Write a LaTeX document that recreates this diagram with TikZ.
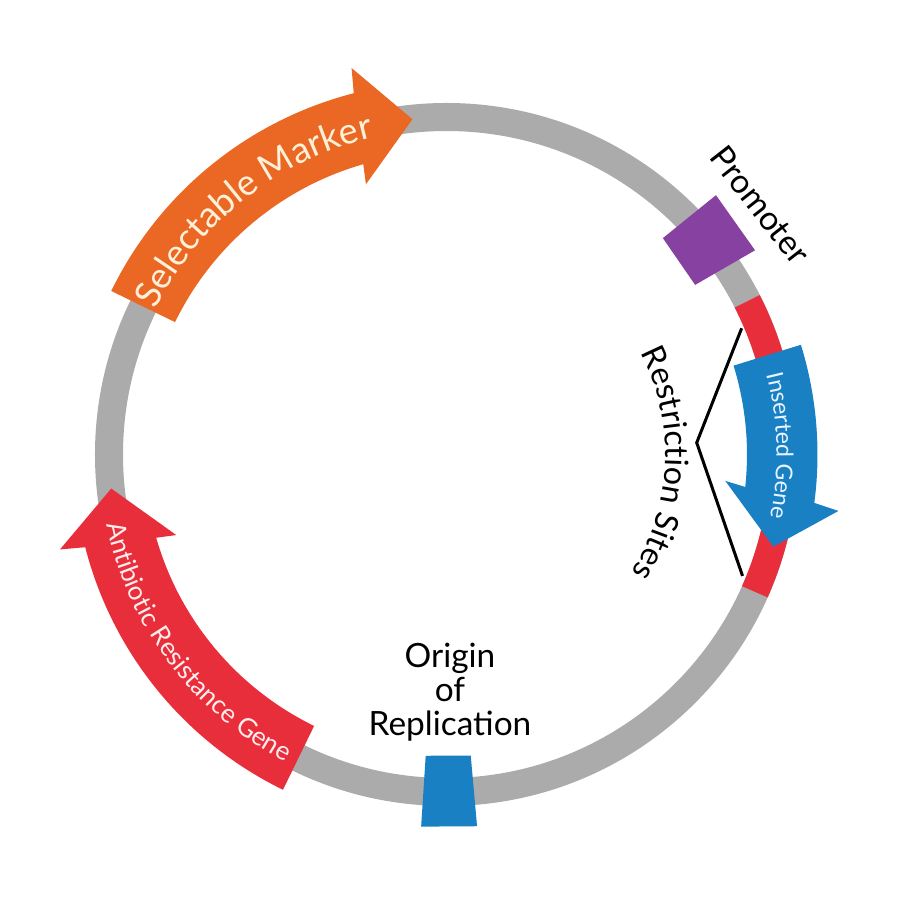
\documentclass[tikz,border=0pt]{standalone}
\usepackage{fontspec}
\setmainfont{Lato}
\usepackage{tikz}
\usetikzlibrary{decorations.text}
\definecolor{ringgray}{HTML}{ABABAB}
\definecolor{markerorange}{HTML}{EA6724}
\definecolor{resistred}{HTML}{E92E3B}
\definecolor{promoterpurple}{HTML}{8741A0}
\definecolor{geneblue}{HTML}{1A80C4}
\definecolor{markertext}{HTML}{FFF0D8}
\definecolor{genetext}{HTML}{E8F4FF}
\definecolor{resisttext}{HTML}{FFEDEE}

\begin{document}
\begin{tikzpicture}[x=0.01cm,y=0.01cm,
  backbone/.style={line width=0.28cm},
  plasmidtext/.style={font=\fontsize{9.5}{9.67}\selectfont, inner sep=0pt},
  arctext/.style={decorate, decoration={text along path, text align=center, text color=#1}}]
\useasboundingbox (-446.5,-445.5) rectangle (453.5,454.5);
\draw[backbone, ringgray] (0,0) circle[radius=337.5];
\draw[backbone, resistred] (27:337.5) arc[start angle=27, end angle=-24, radius=337.5];
\fill[promoterpurple] (45:306) -- (43.9:374) -- (33.5:370) -- (34.3:301) -- cycle;
\fill[geneblue] (266.05:302) -- (274.6:302) -- (274.7:373) -- (266.1:373) -- cycle;
\fill[markerorange] (154:373) arc[start angle=154, end angle=104.4, radius=373] -- (103.8:398) -- (95.8:337) -- (106.6:282) -- (106:302) arc[start angle=106, end angle=154, radius=302] -- cycle;
\fill[resistred] (244:373) arc[start angle=244, end angle=194.4, radius=373] -- (193.8:398) -- (185.8:337) -- (196.6:282) -- (196:302) arc[start angle=196, end angle=244, radius=302] -- cycle;
\fill[geneblue] (17.2:371) arc[start angle=17.2, end angle=-7.5, radius=371] -- (-8.2:396) -- (-15.75:339.6) -- (-5.4:280) -- (-6.2:300.5) arc[start angle=-6.2, end angle=17.2, radius=300.5] -- cycle;
\path[arctext=markertext, decoration={text={|\fontsize{10.3}{12}\selectfont|Selectable Marker}}] (160:325) arc[start angle=160, end angle=96.5, radius=325];
\path[arctext=resisttext, decoration={text={|\fontsize{7.4}{9}\selectfont|Antibiotic Resistance Gene}}] (183:347) arc[start angle=183, end angle=251, radius=347];
\path[arctext=genetext, decoration={text={|\fontsize{6.6}{8}\selectfont|Inserted Gene}}] (20:330) arc[start angle=20, end angle=-17.1, radius=330];
\path[arctext=black, decoration={text={|\fontsize{9.2}{10}\selectfont|Restriction Sites}}] (37.5:219) arc[start angle=37.5, end angle=-42.5, radius=219];
\coordinate (siteA) at (23.15:321);
\coordinate (siteB) at (-22.3:320);
\coordinate (siteapex) at (2.7:250.5);
\draw[line width=0.03cm] (siteA) -- (siteapex) -- (siteB);
\node[plasmidtext, rotate=-52] (promoter) at (38.5:401) {Promoter};
\node[plasmidtext, align=center] (origin) at (3.5,-238) {Origin\\of\\Replication};
\end{tikzpicture}
\end{document}
